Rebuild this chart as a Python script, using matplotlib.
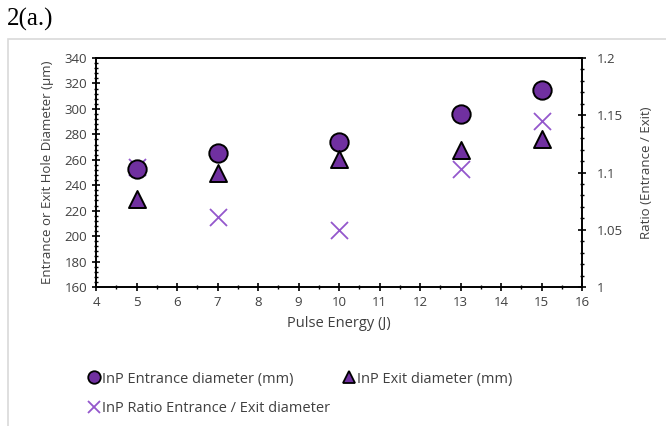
import matplotlib
matplotlib.use("Agg")
from matplotlib import pyplot as plt
from matplotlib.ticker import MultipleLocator
from matplotlib.patches import Rectangle
from matplotlib.lines import Line2D

energy = [5, 7, 10, 13, 15]
entrance = [253, 265, 274, 296, 315]
exit_d = [229, 250, 261, 268, 276]
ratio = [1.105, 1.061, 1.050, 1.103, 1.145]

purple = "#7030A0"
cross_c = "#9457CC"
grey_txt = "#404040"

plt.rcParams["font.family"] = ["Open Sans", "DejaVu Sans"]
plt.rcParams["font.size"] = 9

fig = plt.figure(figsize=(6.66, 4.26), dpi=100)
# gray frame around chart area
fig.patches.append(Rectangle((8 / 666, -0.05), 1.0, 1 - 39 / 426 + 0.05,
                             transform=fig.transFigure, fill=False,
                             edgecolor="#d9d9d9", lw=1.2))
fig.text(7 / 666, 1 - 19 / 426, "2(a.)", family="Liberation Serif",
         fontsize=18, va="center", ha="left")

ax = fig.add_axes([96 / 666, 1 - 287 / 426, 486 / 666, 229 / 426])
ax2 = ax.twinx()

ax.scatter(energy, entrance, s=175, marker="o", facecolor=purple,
           edgecolor="black", lw=1.4, zorder=4)
ax.scatter(energy, exit_d, s=150, marker="^", facecolor=purple,
           edgecolor="black", lw=1.4, zorder=4)
ax2.scatter(energy, ratio, s=150, marker="x", color=cross_c, lw=1.3, zorder=2)
ax.set_zorder(ax2.get_zorder() + 1)
ax.patch.set_visible(False)

ax.set_xlim(4, 16)
ax.set_ylim(160, 340)
ax2.set_ylim(1, 1.2)
ax.xaxis.set_major_locator(MultipleLocator(1))
ax.xaxis.set_minor_locator(MultipleLocator(0.5))
ax.yaxis.set_major_locator(MultipleLocator(20))
ax.yaxis.set_minor_locator(MultipleLocator(4))
ax2.yaxis.set_minor_locator(MultipleLocator(0.01))
ax2.set_yticks([1, 1.05, 1.1, 1.15, 1.2])
ax2.set_yticklabels(["1", "1.05", "1.1", "1.15", "1.2"])

for a in (ax, ax2):
    for s in a.spines.values():
        s.set_linewidth(1.2)
    a.tick_params(which="major", direction="inout", length=6, width=1.2,
                  colors="black", labelcolor=grey_txt, labelsize=9.5)
    a.tick_params(which="minor", direction="inout", length=3, width=1)
ax2.tick_params(which="major", pad=8)

ax.set_xlabel("Pulse Energy (J)", color=grey_txt, fontsize=10.5, labelpad=5)
ax.set_ylabel("Entrance or Exit Hole Diameter (\u00b5m)", color=grey_txt,
              fontsize=9.5, labelpad=7)
ax2.set_ylabel("Ratio (Entrance / Exit)", color=grey_txt, fontsize=9.5,
               labelpad=12)

h1 = Line2D([], [], marker="o", ls="", markerfacecolor=purple,
            markeredgecolor="black", markeredgewidth=1.3, markersize=9)
h2 = Line2D([], [], marker="^", ls="", markerfacecolor=purple,
            markeredgecolor="black", markeredgewidth=1.3, markersize=9)
h3 = Line2D([], [], marker="x", ls="", color=cross_c, markersize=8,
            markeredgewidth=1.3)
leg_kw = dict(loc="center left", frameon=False, fontsize=10.5,
              handletextpad=0.05, handlelength=1.0, labelcolor=grey_txt,
              borderaxespad=0, borderpad=0)
fig.legend([h1], ["InP Entrance diameter (mm)"],
           bbox_to_anchor=(87 / 666, 1 - 379 / 426), **leg_kw)
fig.legend([h2], ["InP Exit diameter (mm)"],
           bbox_to_anchor=(342 / 666, 1 - 379 / 426), **leg_kw)
fig.legend([h3], ["InP Ratio Entrance / Exit diameter"],
           bbox_to_anchor=(87 / 666, 1 - 409 / 426), **leg_kw)

fig.savefig("out.png", dpi=100)
